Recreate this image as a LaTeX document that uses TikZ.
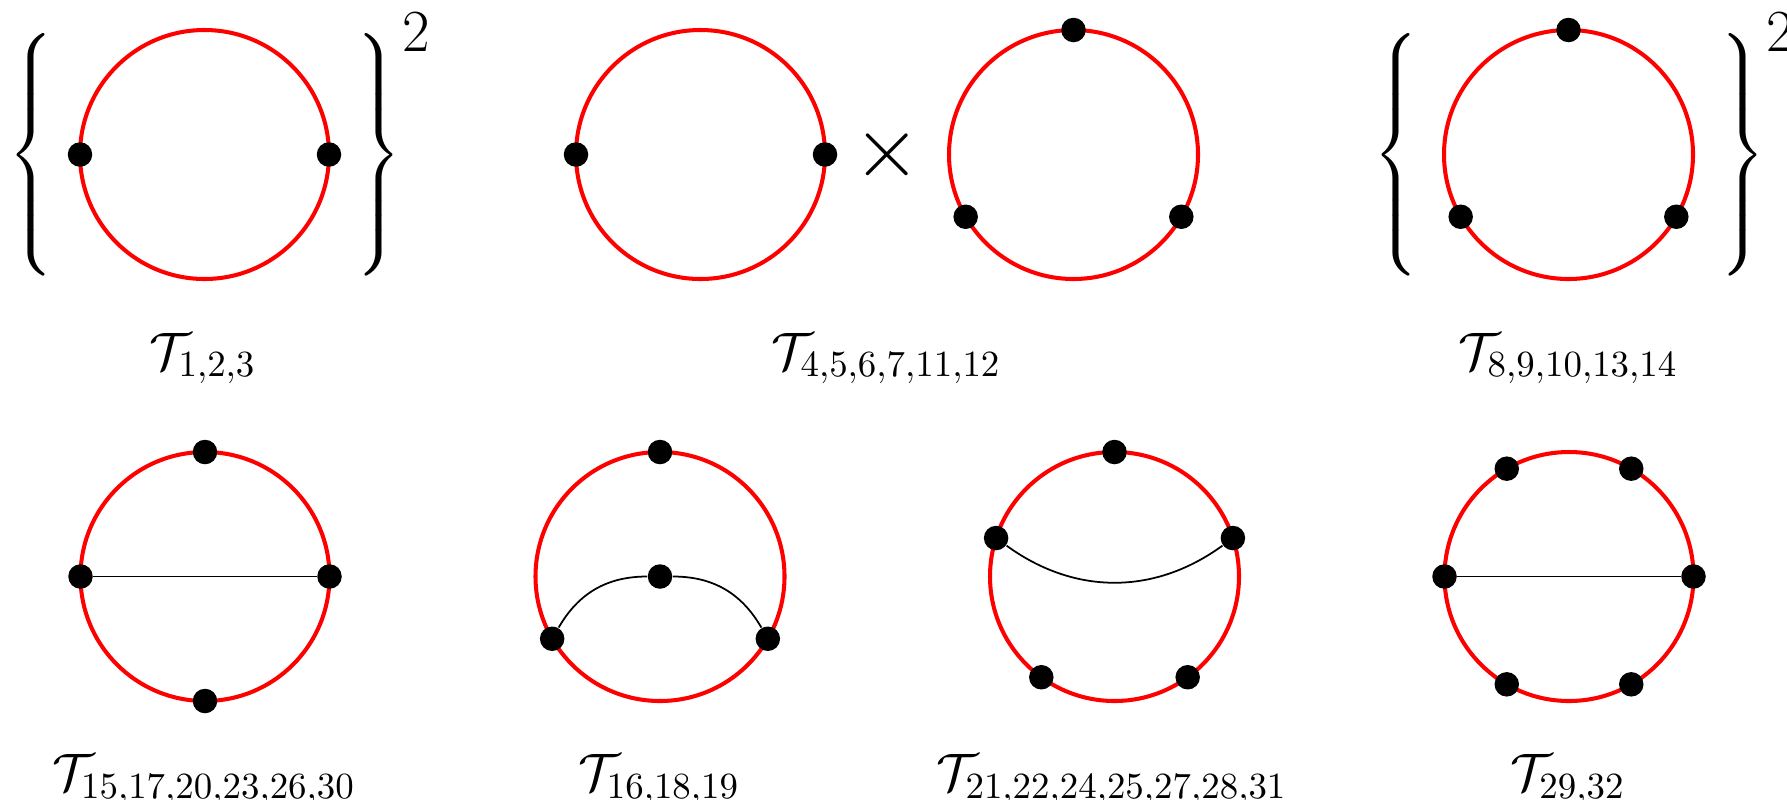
\RequirePackage{fix-cm}
\documentclass[tikz,border=0pt]{standalone}
\usepackage{amsmath}
\usetikzlibrary{positioning}
\definecolor{loopred}{RGB}{255, 0, 0}

\newcommand{\lcurl}{$\nulldelimiterspace=0pt\delimitershortfall=0pt\delimiterfactor=1000\left\{\vcenter{\hbox{\rule{0pt}{66pt}}}\right.$}
\newcommand{\rcurl}{$\nulldelimiterspace=0pt\delimitershortfall=0pt\delimiterfactor=1000\left.\vcenter{\hbox{\rule{0pt}{66pt}}}\right\}$}

\begin{document}
\begin{tikzpicture}[
        ring/.style={circle, draw=loopred, line width=1.15pt, minimum size=2.49cm, inner sep=0pt, outer sep=0pt},
        vertex/.style={circle, fill=black, minimum size=0.245cm, inner sep=0pt},
        chord/.style={draw=black, line width=0.5pt},
        tag/.style={anchor=base, inner sep=0pt, font=\fontsize{15}{18}\selectfont},
        delim/.style={inner sep=0pt, font=\fontsize{14.75}{18}\selectfont},
        power/.style={inner sep=0pt, font=\fontsize{17}{20}\selectfont}
    ]
        \useasboundingbox (0, 0) rectangle (17.87, -7.99);

        % Rings
        \node[ring] (c1) at (2.045, -1.545) {};
        \node[ring] (c2) at (7.005, -1.545) {};
        \node[ring] (c3) at (10.735, -1.545) {};
        \node[ring] (c4) at (15.685, -1.545) {};
        \node[ring] (c5) at (2.05, -5.765) {};
        \node[ring] (c6) at (6.60, -5.765) {};
        \node[ring] (c7) at (11.145, -5.765) {};
        \node[ring] (c8) at (15.69, -5.765) {};

        % Brackets and product sign
        \node[delim] (l1) at (0.31, -1.55) {\lcurl};
        \node[delim] (r1) at (3.785, -1.55) {\rcurl};
        \node[power] (p1) at (4.16, -0.32) {$2$};
        \node[delim] (l4) at (13.955, -1.55) {\lcurl};
        \node[delim] (r4) at (17.425, -1.55) {\rcurl};
        \node[power] (p4) at (17.80, -0.32) {$2$};
        \node[font=\fontsize{24.7}{28}\selectfont, inner sep=0pt] (times) at (8.874, -1.545) {$\times$};

        % Vertices
        \node[vertex] (d1w) at (c1.west) {};
        \node[vertex] (d1e) at (c1.east) {};
        \node[vertex] (d2w) at (c2.west) {};
        \node[vertex] (d2e) at (c2.east) {};
        \node[vertex] (d3n) at (c3.north) {};
        \node[vertex] (d3a) at (c3.210) {};
        \node[vertex] (d3b) at (c3.330) {};
        \node[vertex] (d4n) at (c4.north) {};
        \node[vertex] (d4a) at (c4.210) {};
        \node[vertex] (d4b) at (c4.330) {};

        \node[vertex] (d5n) at (c5.north) {};
        \node[vertex] (d5s) at (c5.south) {};
        \node[vertex] (d5w) at (c5.west) {};
        \node[vertex] (d5e) at (c5.east) {};
        \node[vertex] (d6n) at (c6.north) {};
        \node[vertex] (d6m) at (c6.center) {};
        \node[vertex] (d6a) at (c6.210) {};
        \node[vertex] (d6b) at (c6.330) {};
        \node[vertex] (d7n) at (c7.north) {};
        \node[vertex] (d7a) at (c7.162) {};
        \node[vertex] (d7b) at (c7.18) {};
        \node[vertex] (d7c) at (c7.234) {};
        \node[vertex] (d7d) at (c7.306) {};
        \node[vertex] (d8w) at (c8.west) {};
        \node[vertex] (d8e) at (c8.east) {};
        \node[vertex] (d8a) at (c8.60) {};
        \node[vertex] (d8b) at (c8.120) {};
        \node[vertex] (d8c) at (c8.240) {};
        \node[vertex] (d8d) at (c8.300) {};

        % Chords
        \draw[chord] (d5w) -- (d5e);
        \draw[chord] (d6a) to[out=60, in=180] (d6m) to[out=0, in=120] (d6b);
        \draw[chord] (d7a) to[bend right=36] (d7b);
        \draw[chord] (d8w) -- (d8e);

        % Labels
        \node[tag] (t1) at (2.03, -3.69) {$\mathcal{T}_{1,2,3}$};
        \node[tag] (t2) at (8.865, -3.69) {$\mathcal{T}_{4,5,6,7,11,12}$};
        \node[tag] (t3) at (15.685, -3.69) {$\mathcal{T}_{8,9,10,13,14}$};
        \node[tag] (t5) at (2.04, -7.905) {$\mathcal{T}_{15,17,20,23,26,30}$};
        \node[tag] (t6) at (6.59, -7.905) {$\mathcal{T}_{16,18,19}$};
        \node[tag] (t7) at (11.12, -7.905) {$\mathcal{T}_{21,22,24,25,27,28,31}$};
        \node[tag] (t8) at (15.68, -7.905) {$\mathcal{T}_{29,32}$};

    \end{tikzpicture}
\end{document}
